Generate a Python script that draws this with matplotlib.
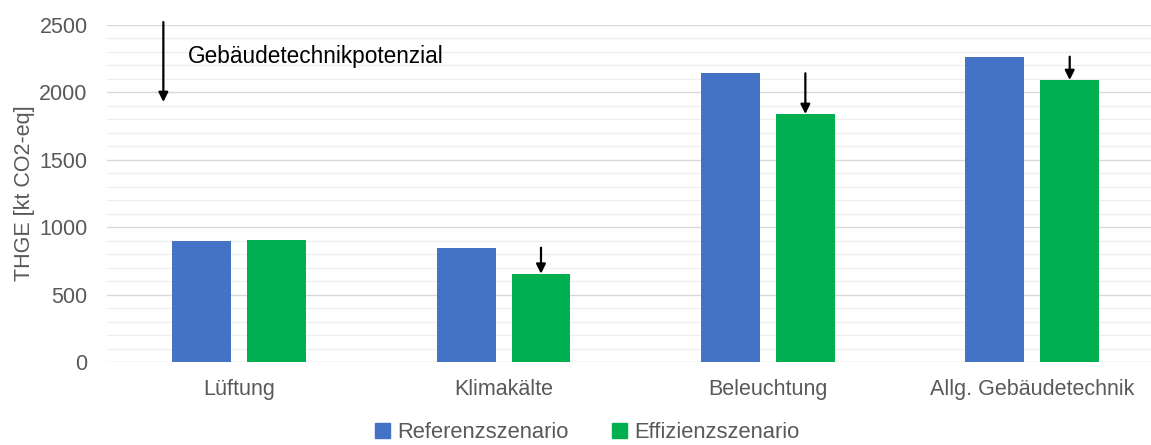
import numpy as np
import matplotlib.pyplot as plt
from matplotlib.ticker import MultipleLocator
from matplotlib.patches import Patch

# Daten
kategorien = ["Lüftung", "Klimakälte", "Beleuchtung", "Allg. Gebäudetechnik"]
referenz = [898, 848, 2142, 2265]
effizienz = [906, 655, 1840, 2092]
# Kategorien mit Pfeil (Einsparung Referenz -> Effizienz)
pfeil_idx = [1, 2, 3]

blau = "#4472C4"
gruen = "#00B050"
grau = "#595959"

plt.rcParams['font.family'] = ['Liberation Sans', 'DejaVu Sans']

fig = plt.figure(figsize=(11.51, 4.45), dpi=100)
ax = fig.add_axes([0.093, 0.1865, 0.907, 0.7573])

x = np.arange(len(kategorien))
breite = 0.2226
versatz = 0.1415

ax.bar(x - versatz, referenz, breite, color=blau, zorder=3)
ax.bar(x + versatz, effizienz, breite, color=gruen, zorder=3)

# Pfeile fuer das Gebaeudetechnikpotenzial
for i in pfeil_idx:
    ax.annotate("", xy=(x[i] + versatz, effizienz[i]), xytext=(x[i] + versatz, referenz[i]),
                arrowprops=dict(arrowstyle='-|>', color='black', lw=1.6,
                                mutation_scale=14, shrinkA=0, shrinkB=0), zorder=5)

# Legendenpfeil mit Text
ax.annotate("", xy=(-0.287, 1929), xytext=(-0.287, 2522),
            arrowprops=dict(arrowstyle='-|>', color='black', lw=1.6,
                            mutation_scale=14, shrinkA=0, shrinkB=0),
            annotation_clip=False, zorder=5)
ax.text(-0.195, 2263, "Gebäudetechnikpotenzial", fontsize=16.3, va='center', ha='left', color='black')

ax.set_xlim(-0.5, 3.449)
ax.set_ylim(0, 2500)
ax.yaxis.set_major_locator(MultipleLocator(500))
ax.yaxis.set_minor_locator(MultipleLocator(100))
ax.grid(which='major', axis='y', color='#d9d9d9', lw=1.0, zorder=0)
ax.grid(which='minor', axis='y', color='#eeeeee', lw=0.9, zorder=0)

ax.set_xticks(x)
ax.set_xticklabels(kategorien)
ax.tick_params(axis='x', length=0, pad=12, labelsize=15.5, labelcolor=grau)
ax.tick_params(axis='y', which='both', length=0, pad=14, labelsize=15.5, labelcolor=grau)

for s in ax.spines.values():
    s.set_visible(False)

ax.set_ylabel("THGE [kt CO2-eq]", fontsize=15.5, color=grau)
ax.yaxis.set_label_coords(-0.069, 0.5)

handles = [Patch(color=blau, label="Referenzszenario"), Patch(color=gruen, label="Effizienzszenario")]
fig.legend(handles=handles, loc='center', bbox_to_anchor=(0.51, 0.027), ncol=2, frameon=False,
           fontsize=15.8, labelcolor=grau, handlelength=0.7, handleheight=0.7,
           handletextpad=0.3, columnspacing=2.0)

fig.savefig("out.png", dpi=100)
